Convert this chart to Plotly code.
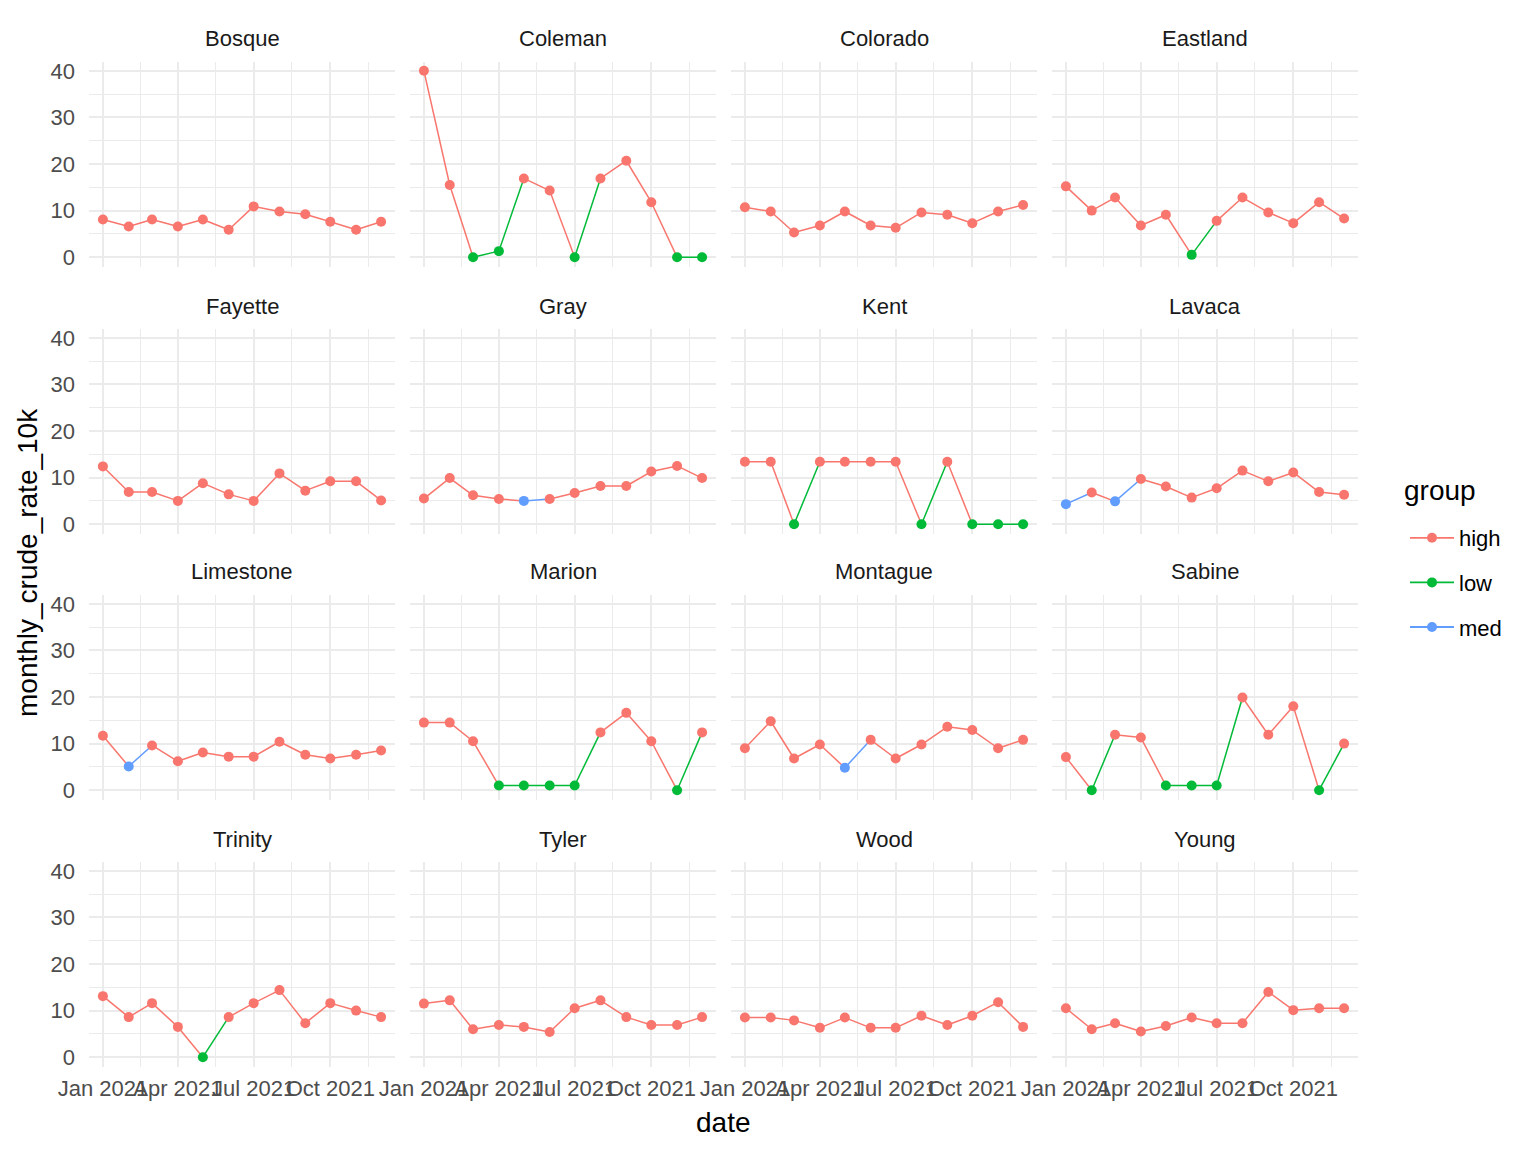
import pandas as pd
import plotly.graph_objects as go
from plotly.subplots import make_subplots

# monthly crude rate per 10k, Jan..Dec 2021
months = pd.date_range("2021-01-01", periods=12, freq="MS")
counties = ["Bosque", "Coleman", "Colorado", "Eastland",
            "Fayette", "Gray", "Kent", "Lavaca",
            "Limestone", "Marion", "Montague", "Sabine",
            "Trinity", "Tyler", "Wood", "Young"]

bosque = [8.1, 6.6, 8.1, 6.6, 8.1, 5.9, 10.9, 9.8, 9.2, 7.6, 5.9, 7.6]
coleman = [40.0, 15.5, 0.0, 1.3, 16.9, 14.3, 0.0, 16.9, 20.7, 11.8, 0.0, 0.0]
colorado = [10.7, 9.8, 5.3, 6.8, 9.8, 6.8, 6.3, 9.6, 9.1, 7.3, 9.8, 11.2]
eastland = [15.2, 10.0, 12.8, 6.8, 9.1, 0.5, 7.8, 12.8, 9.6, 7.3, 11.8, 8.3]
fayette = [12.4, 6.9, 6.9, 5.0, 8.8, 6.4, 5.0, 10.9, 7.2, 9.2, 9.2, 5.1]
gray = [5.5, 9.9, 6.2, 5.4, 5.0, 5.4, 6.7, 8.2, 8.2, 11.3, 12.5, 9.9]
kent = [13.4, 13.4, 0.0, 13.4, 13.4, 13.4, 13.4, 0.0, 13.4, 0.0, 0.0, 0.0]
lavaca = [4.3, 6.8, 4.9, 9.7, 8.1, 5.7, 7.7, 11.5, 9.2, 11.1, 6.9, 6.3]
limestone = [11.7, 5.1, 9.6, 6.2, 8.1, 7.2, 7.2, 10.4, 7.6, 6.8, 7.6, 8.5]
marion = [14.5, 14.5, 10.5, 1.0, 1.0, 1.0, 1.0, 12.4, 16.6, 10.5, 0.0, 12.4]
montague = [9.0, 14.8, 6.8, 9.8, 4.8, 10.8, 6.8, 9.8, 13.6, 12.9, 9.0, 10.8]
sabine = [7.1, 0.0, 11.9, 11.3, 1.0, 1.0, 1.0, 19.9, 11.9, 18.0, 0.0, 10.0]
trinity = [13.1, 8.6, 11.6, 6.5, 0.0, 8.6, 11.6, 14.4, 7.3, 11.6, 10.0, 8.6]
tyler = [11.5, 12.2, 6.0, 6.9, 6.5, 5.4, 10.5, 12.2, 8.6, 6.9, 6.9, 8.6]
wood = [8.5, 8.5, 7.9, 6.3, 8.5, 6.3, 6.3, 8.9, 6.9, 8.9, 11.8, 6.5]
young = [10.5, 6.0, 7.3, 5.5, 6.7, 8.5, 7.3, 7.3, 14.0, 10.1, 10.5, 10.5]

# group per month: h = high, l = low, m = med
bosque_grp = "hhhhhhhhhhhh"
coleman_grp = "hhllhhlhhhll"
colorado_grp = "hhhhhhhhhhhh"
eastland_grp = "hhhhhlhhhhhh"
fayette_grp = "hhhhhhhhhhhh"
gray_grp = "hhhhmhhhhhhh"
kent_grp = "hhlhhhhlhlll"
lavaca_grp = "mhmhhhhhhhhh"
limestone_grp = "hmhhhhhhhhhh"
marion_grp = "hhhllllhhhlh"
montague_grp = "hhhhmhhhhhhh"
sabine_grp = "hlhhlllhhhlh"
trinity_grp = "hhhhlhhhhhhh"
tyler_grp = "hhhhhhhhhhhh"
wood_grp = "hhhhhhhhhhhh"
young_grp = "hhhhhhhhhhhh"

values = [bosque, coleman, colorado, eastland, fayette, gray, kent, lavaca,
          limestone, marion, montague, sabine, trinity, tyler, wood, young]
group_codes = [bosque_grp, coleman_grp, colorado_grp, eastland_grp,
               fayette_grp, gray_grp, kent_grp, lavaca_grp,
               limestone_grp, marion_grp, montague_grp, sabine_grp,
               trinity_grp, tyler_grp, wood_grp, young_grp]

groups = ["high", "low", "med"]
colors = {"high": "#F8766D", "low": "#00BA38", "med": "#619CFF"}
code_names = {"h": "high", "l": "low", "m": "med"}

W, H = 1536, 1152
OFF = 8  # page body margin
col_left = [89 - OFF, 410 - OFF, 731 - OFF, 1052 - OFF]
panel_w = 306
row_top = [61.5 - OFF, 328.5 - OFF, 594.5 - OFF, 861.5 - OFF]
panel_h = 205
FONT = "Liberation Sans, Arial"

fig = make_subplots(rows=4, cols=4)

for k, county in enumerate(counties):
    r, c = k // 4 + 1, k % 4 + 1
    vals = values[k]
    grp = [code_names[ch] for ch in group_codes[k]]
    # segments take the colour of their starting point
    for g in groups:
        xs, ys = [], []
        for i in range(len(vals) - 1):
            if grp[i] == g:
                xs += [months[i], months[i + 1], None]
                ys += [vals[i], vals[i + 1], None]
        if xs:
            fig.add_trace(go.Scatter(x=xs, y=ys, mode="lines",
                                     line=dict(color=colors[g], width=1.5),
                                     showlegend=False, hoverinfo="skip"),
                          row=r, col=c)
    for g in groups:
        px_ = [months[i] for i in range(len(vals)) if grp[i] == g]
        py_ = [vals[i] for i in range(len(vals)) if grp[i] == g]
        if px_:
            fig.add_trace(go.Scatter(x=px_, y=py_, mode="markers",
                                     marker=dict(color=colors[g], size=10),
                                     showlegend=False, name=g),
                          row=r, col=c)

# legend entries
for g in groups:
    fig.add_trace(go.Scatter(x=[None], y=[None], mode="lines+markers", name=g,
                             legendgroup=g,
                             line=dict(color=colors[g], width=1.8),
                             marker=dict(color=colors[g], size=10)),
                  row=1, col=1)

span = months[-1] - months[0]
x_range = [months[0] - span * 0.05, months[-1] + span * 0.05]
major_x = [pd.Timestamp("2021-01-01"), pd.Timestamp("2021-04-01"),
           pd.Timestamp("2021-07-01"), pd.Timestamp("2021-10-01")]
minor_x = [major_x[i] + (major_x[i + 1] - major_x[i]) / 2 for i in range(3)]
minor_x.append(major_x[3] + (pd.Timestamp("2022-01-01") - major_x[3]) / 2)
tick_text = [d.strftime("%b %Y") for d in major_x]

tick_font = dict(family=FONT, size=22, color="#4D4D4D")
grid = "#EBEBEB"

for k in range(16):
    r, c = k // 4, k % 4
    n = "" if k == 0 else str(k + 1)
    x0 = col_left[c] / W
    x1 = (col_left[c] + panel_w) / W
    y1 = 1 - row_top[r] / H
    y0 = 1 - (row_top[r] + panel_h) / H
    fig.layout["xaxis" + n].update(
        domain=[x0, x1], range=x_range, type="date", automargin=False,
        tickmode="array", tickvals=major_x, ticktext=tick_text,
        showticklabels=(r == 3), tickangle=0, tickfont=tick_font,
        showgrid=True, gridcolor=grid, gridwidth=2, zeroline=False,
        showline=False, ticks="", ticklabelstandoff=6,
        minor=dict(tickmode="array", tickvals=minor_x, showgrid=True,
                   gridcolor=grid, gridwidth=1, ticks=""))
    fig.layout["yaxis" + n].update(
        domain=[y0, y1], range=[-2, 42], automargin=False,
        tickmode="array", tickvals=[0, 10, 20, 30, 40],
        showticklabels=(c == 0), tickfont=tick_font,
        showgrid=True, gridcolor=grid, gridwidth=2, zeroline=False,
        showline=False, ticks="", ticklabelstandoff=13,
        minor=dict(tickmode="array", tickvals=[5, 15, 25, 35], showgrid=True,
                   gridcolor=grid, gridwidth=1, ticks=""))

# strip labels
annotations = []
strip_y = [39 - OFF, 306 - OFF, 572 - OFF, 839 - OFF]
for k, county in enumerate(counties):
    r, c = k // 4, k % 4
    annotations.append(dict(
        text=county, x=(col_left[c] + panel_w / 2) / W, y=1 - strip_y[r] / H,
        xref="paper", yref="paper", showarrow=False,
        xanchor="center", yanchor="middle",
        font=dict(family=FONT, size=22, color="#1A1A1A")))

annotations.append(dict(
    text="date", x=(col_left[0] + col_left[3] + panel_w) / 2 / W,
    y=1 - (1122 - OFF) / H,
    xref="paper", yref="paper", showarrow=False,
    xanchor="center", yanchor="middle",
    font=dict(family=FONT, size=28, color="black")))
annotations.append(dict(
    text="monthly_crude_rate_10k", x=(28 - OFF) / W, y=1 - (563 - OFF) / H,
    xref="paper", yref="paper", showarrow=False, textangle=-90,
    xanchor="center", yanchor="middle",
    font=dict(family=FONT, size=28, color="black")))
# legend title
annotations.append(dict(
    text="group", x=(1402 - OFF) / W, y=1 - (490 - OFF) / H,
    xref="paper", yref="paper", showarrow=False,
    xanchor="left", yanchor="middle",
    font=dict(family=FONT, size=28, color="black")))

fig.update_layout(
    width=W, height=H,
    margin=dict(l=0, r=0, t=0, b=0, autoexpand=False),
    paper_bgcolor="white", plot_bgcolor="white",
    annotations=annotations,
    legend=dict(x=(1405 - OFF) / W, y=1 - (517 - OFF) / H,
                xanchor="left", yanchor="top",
                font=dict(family=FONT, size=22, color="black"),
                tracegroupgap=13, itemwidth=44, bgcolor="rgba(0,0,0,0)"),
)

fig.write_html("out.html")
